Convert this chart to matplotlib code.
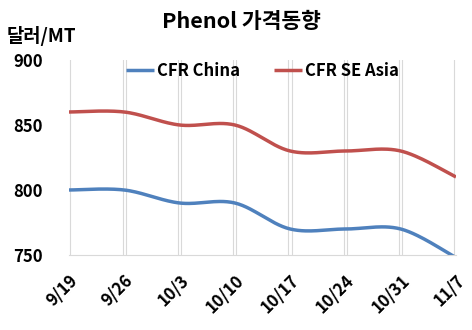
import matplotlib
matplotlib.use("Agg")
import matplotlib.pyplot as plt
import numpy as np

plt.rcParams['font.family'] = ['Noto Sans CJK KR', 'DejaVu Sans']
plt.rcParams['font.weight'] = 'bold'

dates = ['9/19', '9/26', '10/3', '10/10', '10/17', '10/24', '10/31', '11/7']
cfr_china = [800, 800, 790, 790, 770, 770, 770, 748]
cfr_se_asia = [860, 860, 850, 850, 830, 830, 830, 810]


def smooth(xs, ys, n=30):
    # cubic bezier smoothing through every point (spreadsheet-style curve)
    xs = np.asarray(xs, float)
    ys = np.asarray(ys, float)
    px, py = [], []
    m = len(xs)
    for i in range(m - 1):
        p0 = (xs[max(i - 1, 0)], ys[max(i - 1, 0)])
        p1 = (xs[i], ys[i])
        p2 = (xs[i + 1], ys[i + 1])
        p3 = (xs[min(i + 2, m - 1)], ys[min(i + 2, m - 1)])
        c1 = (p1[0] + (p2[0] - p0[0]) / 6, p1[1] + (p2[1] - p0[1]) / 6)
        c2 = (p2[0] - (p3[0] - p1[0]) / 6, p2[1] - (p3[1] - p1[1]) / 6)
        t = np.linspace(0, 1, n)
        bx = ((1 - t) ** 3 * p1[0] + 3 * (1 - t) ** 2 * t * c1[0]
              + 3 * (1 - t) * t ** 2 * c2[0] + t ** 3 * p2[0])
        by = ((1 - t) ** 3 * p1[1] + 3 * (1 - t) ** 2 * t * c1[1]
              + 3 * (1 - t) * t ** 2 * c2[1] + t ** 3 * p2[1])
        px.extend(bx)
        py.extend(by)
    return np.array(px), np.array(py)


fig = plt.figure(figsize=(4.72, 3.30), dpi=100)
ax = fig.add_axes([69 / 472, 1 - 255 / 330, (456 - 69) / 472, (255 - 60) / 330])

x = np.arange(len(dates))

# paired light vertical gridlines
for i in x:
    for off in (-0.03, 0.025):
        if 0 <= i + off <= len(dates) - 1:
            ax.axvline(i + off, color='#d9d9d9', lw=0.8, zorder=0)

sx, sy = smooth(x, cfr_china)
ax.plot(sx, sy, color='#4f81bd', lw=2.5, label='CFR China', solid_capstyle='butt')
sx, sy = smooth(x, cfr_se_asia)
ax.plot(sx, sy, color='#c0504d', lw=2.5, label='CFR SE Asia', solid_capstyle='butt')

ax.set_xlim(0, len(dates) - 1)
ax.set_ylim(750, 900)
ax.set_yticks([750, 800, 850, 900])
ax.set_xticks(x)
ax.set_xticklabels(dates, rotation=45, ha='right', rotation_mode='anchor',
                   fontsize=12, fontweight='bold')
ax.tick_params(axis='y', length=0, labelsize=12, pad=19)
ax.tick_params(axis='x', length=0, pad=12)
for lab in ax.get_yticklabels():
    lab.set_fontweight('bold')
for s in ['top', 'right', 'left']:
    ax.spines[s].set_visible(False)
ax.spines['bottom'].set_color('#d9d9d9')

leg = ax.legend(loc='upper center', bbox_to_anchor=(0.5, 1.065), ncol=2, frameon=False,
                prop={'size': 12, 'weight': 'bold'}, handlelength=1.7,
                handletextpad=0.2, columnspacing=2.0)

fig.text(241 / 472, 1 - 22 / 330, 'Phenol 가격동향', ha='center', va='center',
         fontsize=15.5, fontweight='bold')
fig.text(7 / 472, 1 - 36 / 330, '달러/MT', ha='left', va='center',
         fontsize=13.5, fontweight='bold')

fig.savefig('out.png', dpi=100)
